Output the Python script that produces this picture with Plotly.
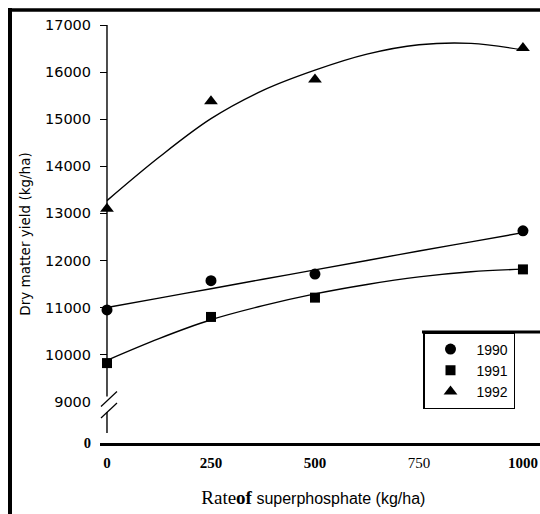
import plotly.graph_objects as go

# ---- data ----
rate = [0, 250, 500, 1000]
yield_1990 = [10950, 11570, 11710, 12630]
yield_1991 = [9820, 10800, 11210, 11810]
yield_1992 = [13100, 15380, 15840, 16510]

fit_rate = [0, 125, 250, 375, 500, 625, 750, 875, 1000]
fit_1990 = [11000, 11200, 11400, 11600, 11800, 12000, 12200, 12395, 12590]
fit_1991 = [9880, 10340, 10740, 11040, 11290, 11490, 11650, 11760, 11815]
fit_1992 = [13270, 14190, 15010, 15610, 16040, 16380, 16580, 16610, 16470]

years = ["1990", "1991", "1992"]
symbols = ["circle", "square", "triangle-up"]
sizes = [11, 10, 12]

y_tickvals = [10000, 11000, 12000, 13000, 14000, 15000, 16000, 17000]
y_ticktext = ["10000", "11000", "12000", "13000", "14000", "15000", "16000", "17000"]
axis_base = 8123          # level of the broken axis base, labelled "0"
break_ticks = [axis_base, 9000]
break_ticktext = ['<span style="font-family:Liberation Serif"><b>0</b></span>', "9000"]
x_tickvals = [0, 250, 500, 750, 1000]
x_ticktext = ["<b>0</b>", "<b>250</b>", "<b>500</b>", "750", "<b>1000</b>"]

y_range = [axis_base, 17000]
x_range = [-16.8, 1041]

# ---- layout geometry (pixels) ----
W_FIG, H_FIG = 540, 514
L, R, T, B = 100, 0, 25, 71
PW, PH = W_FIG - L - R, H_FIG - T - B


def px(x):
    return (x - L) / PW


def py(y):
    return (T + PH - y) / PH


fig = go.Figure()
fits = [fit_1990, fit_1991, fit_1992]
obs = [yield_1990, yield_1991, yield_1992]
for i, yr in enumerate(years):
    fig.add_trace(go.Scatter(
        x=fit_rate, y=fits[i], mode="lines", line=dict(color="black", width=1.4, shape="spline"),
        showlegend=False, hoverinfo="skip", yaxis="y2" if i == 0 else "y"))
for i, yr in enumerate(years):
    fig.add_trace(go.Scatter(
        x=rate, y=obs[i], mode="markers", name=yr,
        marker=dict(symbol=symbols[i], size=sizes[i], color="black", line=dict(width=0))))

sans = "Liberation Sans"
wide = "DejaVu Sans"
serif = "Liberation Serif"

axis_pos = (0 - x_range[0]) / (x_range[1] - x_range[0])

fig.update_layout(
    width=W_FIG, height=H_FIG, autosize=False,
    margin=dict(l=L, r=R, t=T, b=B, pad=0),
    paper_bgcolor="white", plot_bgcolor="white",
    showlegend=True,
    xaxis=dict(range=x_range, tickvals=x_tickvals, ticktext=x_ticktext,
               tickfont=dict(family=serif, size=15, color="black"),
               showline=True, linewidth=3, linecolor="black", showgrid=False, zeroline=False,
               ticks="", ticklabelstandoff=4,
               title=dict(text='<span style="font-family:Liberation Serif;font-size:19px">Rate<b>of</b></span> superphosphate (kg/ha)&nbsp;&nbsp;&nbsp;',
                          font=dict(family=sans, size=16, color="black"), standoff=23)),
    yaxis=dict(range=y_range, tickvals=y_tickvals, ticktext=y_ticktext,
               anchor="free", position=axis_pos, side="left",
               tickfont=dict(family=wide, size=14.5, color="black"),
               ticks="outside", ticklen=7, tickwidth=1.2, tickcolor="black",
               showline=False, showgrid=False, zeroline=False, ticklabelstandoff=6,
               title=dict(text="Dry matter yield (kg/ha)", font=dict(family=wide, size=13.5, color="black"), standoff=10)),
    yaxis2=dict(range=y_range, overlaying="y", anchor="free", position=axis_pos, side="left",
                tickvals=break_ticks, ticktext=break_ticktext,
                tickfont=dict(family=wide, size=14.5, color="black"),
                ticks="outside", ticklen=7, tickcolor="rgba(0,0,0,0)",
                showline=False, showgrid=False, zeroline=False, ticklabelstandoff=6),
    legend=dict(x=px(423), y=py(332), xanchor="left", yanchor="top",
                bgcolor="white", bordercolor="black", borderwidth=1.5,
                font=dict(family=sans, size=14, color="black"),
                tracegroupgap=0, itemsizing="trace", itemwidth=42, entrywidth=60),
)

shapes = []
# frame lines of the scanned figure
shapes.append(dict(type="line", xref="paper", yref="paper", x0=px(10), x1=px(10), y0=py(8), y1=py(514),
                   line=dict(color="black", width=4)))
shapes.append(dict(type="line", xref="paper", yref="paper", x0=px(8), x1=px(540), y0=py(10), y1=py(10),
                   line=dict(color="black", width=3.5)))
shapes.append(dict(type="line", xref="paper", yref="paper", x0=px(422), x1=px(540), y0=py(332), y1=py(332),
                   line=dict(color="black", width=3)))
# broken y axis line
shapes.append(dict(type="line", xref="x", yref="y", x0=0, x1=0, y0=17000, y1=9110,
                   line=dict(color="black", width=1.4)))
shapes.append(dict(type="line", xref="x", yref="y", x0=0, x1=0, y0=8780, y1=8335,
                   line=dict(color="black", width=1.4)))
# break marks
shapes.append(dict(type="line", xref="paper", yref="paper", x0=px(101), x1=px(117), y0=py(406.5), y1=py(391.5),
                   line=dict(color="black", width=1.2)))
shapes.append(dict(type="line", xref="paper", yref="paper", x0=px(101), x1=px(117), y0=py(418), y1=py(403),
                   line=dict(color="black", width=1.2)))
fig.update_layout(shapes=shapes)

fig.write_html("out.html", config={"displayModeBar": False},
               post_script="document.body.style.margin='0';document.body.style.padding='0';")
